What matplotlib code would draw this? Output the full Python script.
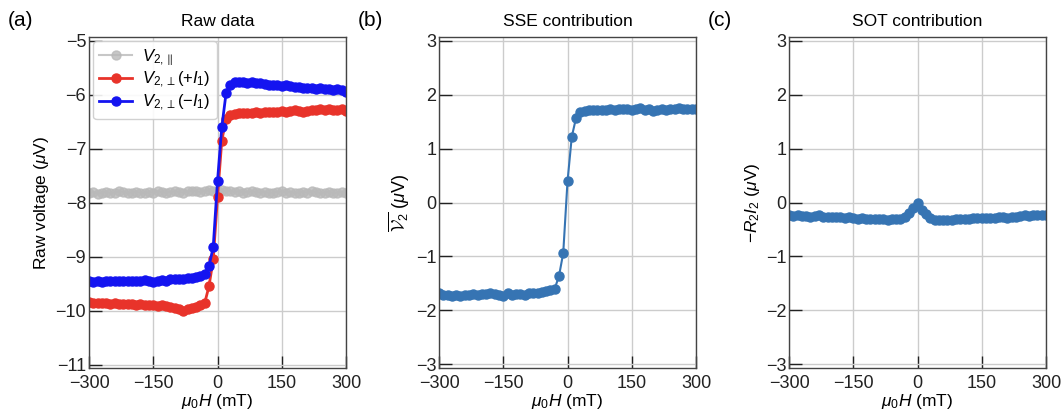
import matplotlib
matplotlib.use('Agg')
import matplotlib.pyplot as plt
import numpy as np

plt.rcParams['font.family'] = ['Liberation Sans', 'DejaVu Sans']
plt.rcParams['mathtext.fontset'] = 'custom'
plt.rcParams['mathtext.rm'] = 'Liberation Sans'
plt.rcParams['mathtext.it'] = 'Liberation Sans:italic'
plt.rcParams['mathtext.cal'] = 'cmsy10'

# field sweep (mT)
field = [-300, -290, -280, -270, -260, -250, -240, -230, -220, -210,
         -200, -190, -180, -170, -160, -150, -140, -130, -120, -110,
         -100, -90, -80, -70, -60, -50, -40, -30, -20, -10,
         0,
         10, 20, 30, 40, 50, 60, 70, 80, 90, 100,
         110, 120, 130, 140, 150, 160, 170, 180, 190, 200,
         210, 220, 230, 240, 250, 260, 270, 280, 290, 300]

v_par = [-7.82, -7.80, -7.83, -7.81, -7.80, -7.82, -7.81, -7.79, -7.80, -7.82,
         -7.81, -7.80, -7.81, -7.82, -7.80, -7.81, -7.79, -7.80, -7.81, -7.80,
         -7.79, -7.80, -7.81, -7.79, -7.78, -7.79, -7.80, -7.78, -7.77, -7.79,
         -7.78,
         -7.77, -7.79, -7.78, -7.80, -7.79, -7.81, -7.80, -7.79, -7.80, -7.81,
         -7.80, -7.82, -7.81, -7.80, -7.79, -7.81, -7.80, -7.82, -7.81, -7.80,
         -7.81, -7.79, -7.80, -7.82, -7.81, -7.80, -7.82, -7.81, -7.80, -7.82]

v_perp_pos = [-9.83, -9.85, -9.86, -9.85, -9.86, -9.87, -9.86, -9.88, -9.87, -9.88,
              -9.87, -9.89, -9.88, -9.89, -9.90, -9.89, -9.91, -9.90, -9.92, -9.93,
              -9.95, -9.97, -10.00, -9.97, -9.95, -9.93, -9.90, -9.86, -9.55, -9.05,
              -7.90,
              -6.85, -6.45, -6.38, -6.35, -6.34, -6.33, -6.34, -6.33, -6.32, -6.33,
              -6.32, -6.31, -6.32, -6.31, -6.30, -6.31, -6.30, -6.29, -6.30, -6.32,
              -6.30, -6.29, -6.28, -6.27, -6.28, -6.27, -6.29, -6.28, -6.27, -6.30]

v_perp_neg = [-9.45, -9.46, -9.45, -9.46, -9.45, -9.44, -9.45, -9.44, -9.45, -9.44,
              -9.44, -9.45, -9.44, -9.43, -9.44, -9.46, -9.44, -9.43, -9.44, -9.42,
              -9.42, -9.41, -9.41, -9.40, -9.39, -9.37, -9.35, -9.32, -9.18, -8.82,
              -7.60,
              -6.60, -5.97, -5.81, -5.77, -5.76, -5.77, -5.78, -5.77, -5.78, -5.79,
              -5.80, -5.81, -5.81, -5.82, -5.83, -5.82, -5.84, -5.85, -5.85, -5.87,
              -5.88, -5.87, -5.89, -5.88, -5.90, -5.89, -5.91, -5.90, -5.92, -5.94]

sse = [-1.68, -1.71, -1.72, -1.73, -1.72, -1.73, -1.71, -1.72, -1.70, -1.71,
       -1.69, -1.70, -1.68, -1.70, -1.72, -1.74, -1.68, -1.72, -1.70, -1.69,
       -1.72, -1.67, -1.68, -1.67, -1.66, -1.65, -1.63, -1.60, -1.37, -0.94,
       0.39,
       1.22, 1.57, 1.67, 1.70, 1.72, 1.71, 1.72, 1.71, 1.72, 1.73,
       1.72, 1.73, 1.74, 1.73, 1.72, 1.74, 1.76, 1.71, 1.73, 1.70,
       1.72, 1.73, 1.72, 1.74, 1.73, 1.75, 1.74, 1.73, 1.74, 1.74]

sot = [-0.24, -0.25, -0.24, -0.25, -0.25, -0.26, -0.25, -0.24, -0.26, -0.27,
       -0.27, -0.26, -0.27, -0.28, -0.27, -0.29, -0.30, -0.29, -0.30, -0.31,
       -0.30, -0.31, -0.31, -0.32, -0.31, -0.31, -0.30, -0.27, -0.19, -0.10,
       0.00,
       -0.14, -0.22, -0.29, -0.32, -0.33, -0.33, -0.32, -0.32, -0.31, -0.31,
       -0.30, -0.30, -0.29, -0.29, -0.29, -0.29, -0.28, -0.28, -0.27, -0.27,
       -0.28, -0.26, -0.26, -0.25, -0.24, -0.25, -0.24, -0.23, -0.24, -0.23]

xticks = [-300, -150, 0, 150, 300]

fig = plt.figure(figsize=(10.63, 4.16), dpi=100)
lefts = [89, 439, 789]
axes = [fig.add_axes([l / 1063, 48 / 416, 257 / 1063, 331 / 416]) for l in lefts]


def style(ax):
    ax.set_xlim(-300, 300)
    ax.set_xticks(xticks)
    ax.grid(True, color='#cccccc', linewidth=1.0)
    ax.set_axisbelow(True)
    ax.tick_params(direction='in', length=9, width=1, labelsize=13,
                   colors='#222222', top=False, right=False)
    ax.tick_params(axis='x', pad=5)
    ax.tick_params(axis='y', pad=2)
    for s in ax.spines.values():
        s.set_color('#444444')
        s.set_linewidth(1.0)
    ax.set_xlabel(r'$\mu_0H$ (mT)', fontsize=12.5, labelpad=0)


ax = axes[0]
ax.plot(field, v_par, '-o', color='#b9b9b9', ms=6.5, lw=1.5, alpha=0.8,
        label=r'$V_{2,\parallel}$')
ax.plot(field, v_perp_pos, '-o', color='#e8332a', ms=6.5, lw=2,
        label=r'$V_{2,\perp}(+I_1)$')
ax.plot(field, v_perp_neg, '-o', color='#1414f0', ms=6.5, lw=2,
        label=r'$V_{2,\perp}(-I_1)$')
ax.set_ylim(-11.06, -4.93)
ax.set_yticks([-11, -10, -9, -8, -7, -6, -5])
ax.set_ylabel(r'Raw voltage ($\mu$V)', fontsize=12.5, labelpad=3)
ax.set_title('Raw data', fontsize=12.5, pad=8)
ax.legend(loc='upper left', fontsize=12, frameon=True, framealpha=0.9,
          edgecolor='#cccccc', handlelength=2.0, borderaxespad=0.25,
          labelspacing=0.15, borderpad=0.35, handletextpad=0.6)
style(ax)

ax = axes[1]
ax.plot(field, sse, '-o', color='#3674b3', ms=6.5, lw=1.5)
ax.set_ylim(-3.07, 3.07)
ax.set_yticks([-3, -2, -1, 0, 1, 2, 3])
ax.set_ylabel(r'$\overline{\mathcal{V}_{2}}$ ($\mu$V)', fontsize=13, labelpad=3)
ax.set_title('SSE contribution', fontsize=12.5, pad=8)
style(ax)

ax = axes[2]
ax.plot(field, sot, '-o', color='#3674b3', ms=6.5, lw=1.5)
ax.set_ylim(-3.07, 3.07)
ax.set_yticks([-3, -2, -1, 0, 1, 2, 3])
ax.set_ylabel(r'$-R_2I_2$ ($\mu$V)', fontsize=12.5, labelpad=3)
ax.set_title('SOT contribution', fontsize=12.5, pad=8)
style(ax)

for ax, lab in zip(axes, ['(a)', '(b)', '(c)']):
    ax.text(-0.315, 1.02, lab, transform=ax.transAxes, fontsize=15,
            ha='left', va='bottom')

fig.savefig('out.png', dpi=100)
